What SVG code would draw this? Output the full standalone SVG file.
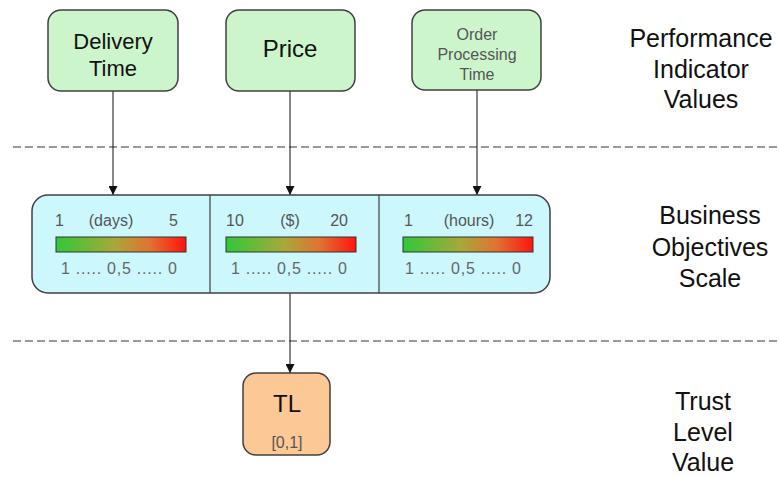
<svg xmlns="http://www.w3.org/2000/svg" width="779" height="477" viewBox="0 0 779 477">
  <defs>
    <linearGradient id="scaleGrad" x1="0" y1="0" x2="1" y2="0">
      <stop offset="0" stop-color="#30c83a"/>
      <stop offset="0.45" stop-color="#a8a838"/>
      <stop offset="0.72" stop-color="#e27232"/>
      <stop offset="1" stop-color="#ff1410"/>
    </linearGradient>
    <marker id="arrow" viewBox="0 0 10 10" refX="10" refY="5" markerWidth="9" markerHeight="9" markerUnits="userSpaceOnUse" orient="auto">
      <path d="M0,0 L10,5 L0,10 z" fill="#111"/>
    </marker>
  </defs>
  <style>
    text { font-family: "Liberation Sans", Arial, sans-serif; }
    .pi { fill: #ccf5cc; stroke: #404040; stroke-width: 1.5; }
    .bo { fill: #ccf8fd; stroke: #404040; stroke-width: 1.5; }
    .tl { fill: #fcc896; stroke: #404040; stroke-width: 1.5; }
    .bar { fill: url(#scaleGrad); stroke: #333; stroke-width: 1; }
    .sep { stroke: #404040; stroke-width: 1.2; }
    .dash { stroke: #333; stroke-width: 1; stroke-dasharray: 8 4; fill: none; }
    .conn { stroke: #111; stroke-width: 1; fill: none; marker-end: url(#arrow); }
    .big { font-size: 22px; fill: #111; text-anchor: middle; }
    .small { font-size: 16px; fill: #555; text-anchor: middle; }
    .lab { font-size: 25px; fill: #111; text-anchor: middle; }
    .sc { font-size: 16px; fill: #555; }
    .sc2 { font-size: 16px; fill: #666; }
  </style>

  <!-- layer separators -->
  <line class="dash" x1="13" y1="147" x2="778" y2="147"/>
  <line class="dash" x1="13" y1="341" x2="778" y2="341"/>

  <!-- connectors -->
  <g id="connectors">
    <line class="conn" x1="113" y1="91" x2="113" y2="195"/>
    <line class="conn" x1="290" y1="91" x2="290" y2="195"/>
    <line class="conn" x1="477" y1="90" x2="477" y2="195"/>
    <line class="conn" x1="290" y1="293" x2="290" y2="373"/>
  </g>

  <!-- performance indicators -->
  <g id="delivery-time">
    <rect class="pi" x="48" y="10" width="130" height="81" rx="13"/>
    <text class="big" x="113" y="49">Delivery</text>
    <text class="big" x="113" y="76">Time</text>
  </g>
  <g id="price">
    <rect class="pi" x="226" y="10" width="129" height="81" rx="13"/>
    <text class="big" x="290" y="57" style="font-size:24px">Price</text>
  </g>
  <g id="order-processing-time">
    <rect class="pi" x="412" y="10" width="129" height="80" rx="13"/>
    <text class="small" x="477" y="40">Order</text>
    <text class="small" x="477" y="60">Processing</text>
    <text class="small" x="477" y="80">Time</text>
  </g>

  <!-- business objectives scale -->
  <g id="business-objectives">
    <rect class="bo" x="32" y="195" width="518" height="98" rx="16"/>
    <line class="sep" x1="210" y1="195" x2="210" y2="293"/>
    <line class="sep" x1="379" y1="195" x2="379" y2="293"/>

    <text class="sc" x="55" y="226">1</text>
    <text class="sc" x="111" y="226" text-anchor="middle">(days)</text>
    <text class="sc" x="178" y="226" text-anchor="end">5</text>
    <rect class="bar" x="56" y="237" width="130" height="15"/>
    <text class="sc2" x="61" y="274" textLength="116" lengthAdjust="spacing">1 ..... 0,5 ..... 0</text>

    <text class="sc" x="226" y="226">10</text>
    <text class="sc" x="290" y="226" text-anchor="middle">($)</text>
    <text class="sc" x="348" y="226" text-anchor="end">20</text>
    <rect class="bar" x="226" y="237" width="130" height="15"/>
    <text class="sc2" x="231" y="274" textLength="116" lengthAdjust="spacing">1 ..... 0,5 ..... 0</text>

    <text class="sc" x="404" y="226">1</text>
    <text class="sc" x="469" y="226" text-anchor="middle">(hours)</text>
    <text class="sc" x="533" y="226" text-anchor="end">12</text>
    <rect class="bar" x="403" y="237" width="130" height="15"/>
    <text class="sc2" x="405" y="274" textLength="116" lengthAdjust="spacing">1 ..... 0,5 ..... 0</text>
  </g>

  <!-- trust level -->
  <g id="trust-level">
    <rect class="tl" x="243" y="373" width="87" height="82" rx="13"/>
    <text class="big" x="287" y="412" style="font-size:24px">TL</text>
    <text class="small" x="287" y="448">[0,1]</text>
  </g>

  <!-- layer labels -->
  <g id="layer-labels">
    <text class="lab" x="701" y="47">Performance</text>
    <text class="lab" x="701" y="78">Indicator</text>
    <text class="lab" x="701" y="108">Values</text>
    <text class="lab" x="710" y="224">Business</text>
    <text class="lab" x="710" y="256">Objectives</text>
    <text class="lab" x="710" y="287">Scale</text>
    <text class="lab" x="703" y="410">Trust</text>
    <text class="lab" x="703" y="441">Level</text>
    <text class="lab" x="703" y="471">Value</text>
  </g>
</svg>
